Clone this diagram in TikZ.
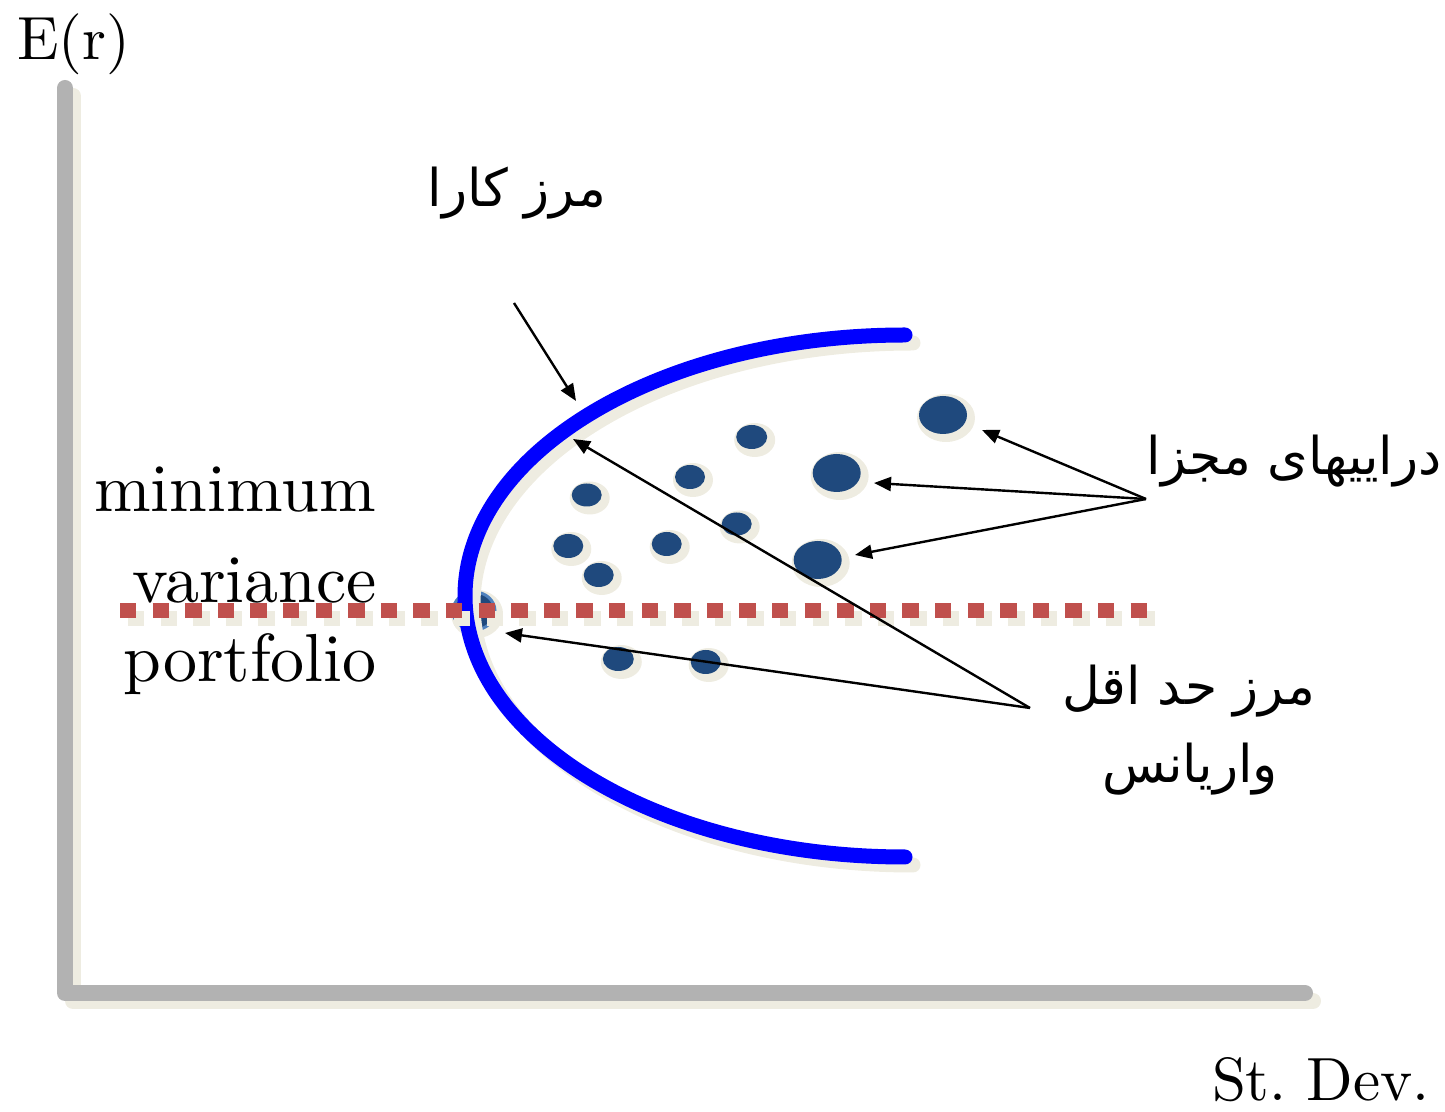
\documentclass[tikz,border=0pt]{standalone}
\usepackage{fontspec}
\setmainfont{lmroman10-regular}[Extension=.otf]
\newfontfamily\arabicfont[Script=Arabic]{DejaVu Sans}
\TeXXeTstate=1
\usetikzlibrary{arrows.meta}
\definecolor{axisgray}{HTML}{B2B2B2}
\definecolor{shadowbeige}{HTML}{EEECE1}
\definecolor{frontblue}{HTML}{0000FF}
\definecolor{dotnavy}{HTML}{1F497D}
\definecolor{dotedge}{HTML}{4F81BD}
\definecolor{mvred}{HTML}{C0504D}
\begin{document}
\begin{tikzpicture}[x=1pt,y=1pt,
  axisline/.style={line width=16, line cap=round, line join=round},
  frontier/.style={line width=15, line cap=round},
  mvline/.style={line width=15, dash pattern=on 16.3 off 16.3},
  pointer/.style={line width=2.4, -{Triangle[length=17pt,width=14pt]}},
  latinlbl/.style={inner sep=0, font=\fontsize{68}{80}\selectfont},
  axislbl/.style={inner sep=0, font=\fontsize{61}{72}\selectfont},
  arablbl/.style={inner sep=0, font=\arabicfont\fontsize{52}{60}\selectfont}]
\useasboundingbox (0,0) rectangle (1445,1111);
% axes
\draw[axisline, shadowbeige] (73,1015) -- (73,110) -- (1313,110);
\draw[axisline, axisgray] (65,1023) -- (65,118) -- (1305,118);
% dots
\foreach \x/\y/\a/\b in {943/696/24/19, 751.7/674/15.5/12, 836.7/638/24/19,
  690/634/15/12, 586.7/616/15/11.5, 736.7/587/15/11.5, 568.3/565/15/12,
  666.7/567/15/12, 817.7/551/24/19, 598.7/536/15/12, 618.3/452/15.5/12,
  705.7/449/15/12} {
  \fill[shadowbeige] (\x+3,\y-3) ellipse[x radius=\a+5, y radius=\b+5];
  \fill[dotnavy] (\x,\y) ellipse[x radius=\a, y radius=\b];
}
% minimum variance point
\fill[shadowbeige] (477,497) ellipse[x radius=26, y radius=24];
\filldraw[fill=dotnavy, draw=dotedge, line width=3] (474,500) ellipse[x radius=21, y radius=19];
% efficient frontier
\draw[frontier, shadowbeige] (913,768) arc[start angle=90, end angle=270, x radius=440, y radius=261];
\draw[frontier, frontblue] (905,776) arc[start angle=90, end angle=270, x radius=440, y radius=261];
% minimum variance line
\draw[mvline, shadowbeige] (128,492) -- (1156,492);
\draw[mvline, mvred] (120,500) -- (1148,500);
% labels
\node[axislbl, anchor=base west] (er) at (17,1051) {E(r)};
\node[axislbl, anchor=base east] (sd) at (1430,11) {St.\ Dev.};
\node[latinlbl, anchor=base east] (mn) at (376,599) {minimum};
\node[latinlbl, anchor=base east] (vr) at (377,508) {variance};
\node[latinlbl, anchor=base east] (pf) at (377,429) {portfolio};
\node[arablbl, anchor=base] (eff) at (517,904) {\beginR مرز کارا\endR};
\node[arablbl, anchor=base] (ind) at (1294,636) {\beginR دراییهای مجزا\endR};
\node[arablbl, anchor=base] (mvf1) at (1189,406) {\beginR مرز حد اقل\endR};
\node[arablbl, anchor=base] (mvf2) at (1190,328) {\beginR واریانس\endR};
% arrow ends
\coordinate (effTail) at (514,808);
\coordinate (effTip) at (576,710);
\coordinate (mvTail) at (1030,403);
\coordinate (mvTipA) at (573,672);
\coordinate (mvTipB) at (505,478);
\coordinate (indTail) at (1146,612);
\coordinate (indTipA) at (982,681);
\coordinate (indTipB) at (874,628);
\coordinate (indTipC) at (855,556);
\draw[pointer] (effTail) -- (effTip);
\draw[pointer] (mvTail) -- (mvTipA);
\draw[pointer] (mvTail) -- (mvTipB);
\draw[pointer] (indTail) -- (indTipA);
\draw[pointer] (indTail) -- (indTipB);
\draw[pointer] (indTail) -- (indTipC);
\end{tikzpicture}
\end{document}
